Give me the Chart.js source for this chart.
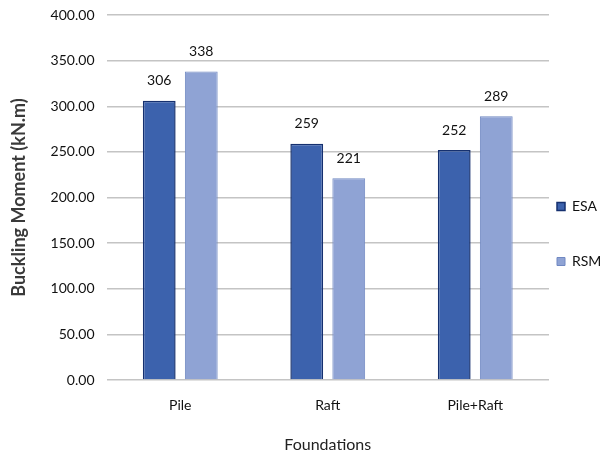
<!DOCTYPE html>
<html>
<head>
<meta charset="utf-8">
<script src="https://cdn.jsdelivr.net/npm/chart.js@4/dist/chart.umd.min.js"></script>
<style>
  html, body { margin: 0; padding: 0; background: #fff; }
  #wrap { width: 613px; height: 455px; }
</style>
</head>
<body>
<div id="wrap"><canvas id="myChart"></canvas></div>
<script>
// chart data
const categories = ["Pile", "Raft", "Pile+Raft"];
const esaValues = [306, 259, 252];
const rsmValues = [338, 221, 289];
const yTicks = [0, 50, 100, 150, 200, 250, 300, 350, 400];

const FONT = "Lato, 'Open Sans', sans-serif";

// draws the value above each bar, using the bar elements the library laid out
const valueLabels = {
  id: "valueLabels",
  afterDatasetsDraw(chart) {
    const ctx = chart.ctx;
    ctx.save();
    ctx.font = "14px " + FONT;
    ctx.fillStyle = "#111";
    ctx.textAlign = "center";
    ctx.textBaseline = "middle";
    chart.data.datasets.forEach((ds, i) => {
      const meta = chart.getDatasetMeta(i);
      meta.data.forEach((bar, j) => {
        ctx.fillText(String(ds.data[j]), bar.x, bar.y - 20);
      });
    });
    ctx.restore();
  },
};

// legend items sit far apart vertically (big label padding), so keep the
// legend box narrow and move its left edge back afterwards
const legendShift = {
  id: "legendShift",
  afterInit(chart) {
    const lg = chart.legend;
    const fit = lg.fit;
    lg.fit = function () {
      fit.call(this);
      this.width = 64;
    };
  },
  afterLayout(chart) {
    const lg = chart.legend;
    lg.left -= 33;
    lg.top += 7;
    lg.bottom += 7;
  },
};

const ctx = document.getElementById("myChart").getContext("2d");
const myChart = new Chart(ctx, {
  type: "bar",
  data: {
    labels: categories,
    datasets: [
      {
        label: "ESA",
        data: esaValues,
        backgroundColor: "#3c62ad",
        borderColor: "#15306f",
        borderWidth: 1.5,
      },
      {
        label: "RSM",
        data: rsmValues,
        backgroundColor: "#8fa3d4",
        borderColor: "#7088c2",
        borderWidth: 1,
      },
    ],
  },
  options: {
    responsive: true,
    maintainAspectRatio: false,
    animation: false,
    categoryPercentage: 0.57,
    barPercentage: 0.78,
    layout: { padding: { top: 0, right: 0, left: 4, bottom: 1 } },
    plugins: {
      tooltip: { enabled: false },
      legend: {
        position: "right",
        labels: {
          boxWidth: 8,
          boxHeight: 8,
          padding: 41,
          color: "#111",
          font: { family: FONT, size: 14 },
        },
      },
    },
    scales: {
      x: {
        grid: { display: false, drawTicks: false },
        border: { display: false },
        ticks: { color: "#111", font: { family: FONT, size: 14 }, padding: 17 },
        title: {
          display: true,
          text: "Foundations",
          color: "#222",
          font: { family: FONT, size: 16 },
          padding: { top: 4, bottom: 0 },
        },
      },
      y: {
        min: 0,
        max: 400,
        afterBuildTicks: (axis) => {
          axis.ticks = yTicks.map((v) => ({ value: v }));
        },
        afterFit: (axis) => {
          axis.paddingTop = 15;
        },
        grid: { color: "#c4c4c4", lineWidth: 1.5, drawTicks: false },
        border: { display: false },
        ticks: {
          color: "#111",
          font: { family: FONT, size: 14 },
          padding: 12,
          callback: (v) => Number(v).toFixed(2),
        },
        title: {
          display: true,
          text: "Buckling Moment (kN.m)",
          color: "#3a3a3a",
          font: { family: FONT, size: 18, weight: "bold" },
          padding: { bottom: 9 },
        },
      },
    },
  },
  plugins: [valueLabels, legendShift],
});
</script>
</body>
</html>
